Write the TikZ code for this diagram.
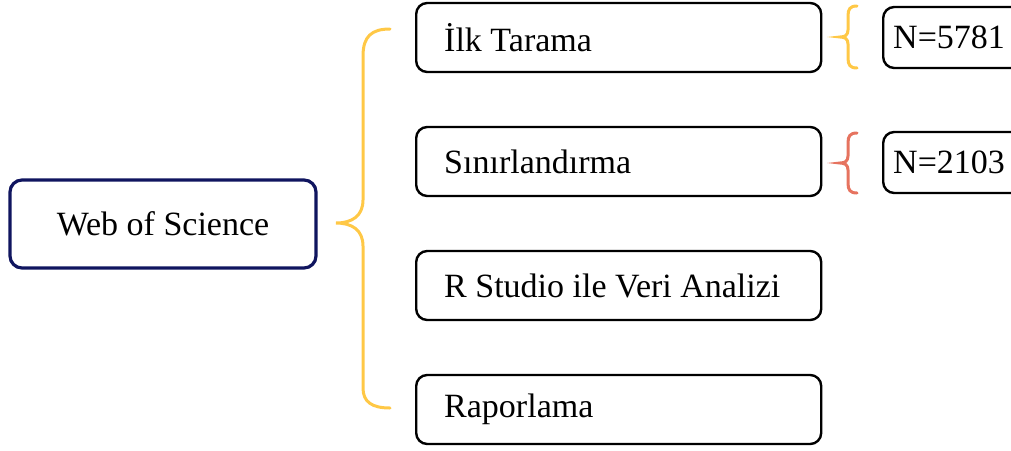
\documentclass[tikz,border=0pt]{standalone}
\usepackage{fontspec}
\setmainfont{Liberation Serif}
\definecolor{navy}{HTML}{10155F}
\definecolor{braceyellow}{HTML}{FFC846}
\definecolor{bracered}{HTML}{E6735F}
\tikzset{
  txt/.style={font=\fontsize{34}{40}\selectfont},
  rootbox/.style={txt, draw=navy, line width=3.2pt, rounded corners=12pt, minimum width=306pt, minimum height=88pt, align=center},
  stepbox/.style={txt, draw=black, line width=2.4pt, rounded corners=11pt, text width=349pt, inner xsep=28pt, minimum height=69pt, align=flush left, anchor=west},
  nbox/.style={txt, draw=black, line width=2.4pt, rounded corners=11pt, text width=130pt, inner xsep=10pt, minimum height=61pt, align=flush left, anchor=west},
  bracelineY/.style={draw=braceyellow, line width=3pt, line cap=round},
  bracelineR/.style={draw=bracered, line width=3pt, line cap=round},
}
\begin{document}
\begin{tikzpicture}[x=1pt,y=-1pt]
\useasboundingbox (0,0) rectangle (1011,450);
\clip (0,0) rectangle (1011,450);
\node[rootbox] (web) at (163,224) {Web of Science};
\node[stepbox] (s1) at (415,37.5) {İlk Tarama};
\node[stepbox] (s2) at (415,161.5) {Sınırlandırma};
\node[stepbox] (s3) at (415,285.5) {R Studio ile Veri Analizi};
\node[stepbox] (s4) at (415,409.5) {Raporlama};
\node[nbox] (n1) at (882,37.5) {N=5781};
\node[nbox] (n2) at (882,162.5) {N=2103};
% big brace
\draw[bracelineY] (390,29) .. controls (372,29) and (363,36) .. (363,56)
  -- (363,200) .. controls (363,216) and (352,223) .. (336,223)
  .. controls (352,223) and (363,230) .. (363,246)
  -- (363,388) .. controls (363,402) and (372,408) .. (390,408);
% small braces
\draw[bracelineY] (857,6) .. controls (850,6) and (848,9) .. (848,16)
  -- (848,30) .. controls (848,35) and (845,37) .. (840,37)
  .. controls (845,37) and (848,39) .. (848,44)
  -- (848,58) .. controls (848,65) and (850,68) .. (857,68);
\draw[bracelineR] (857,133) .. controls (850,133) and (848,136) .. (848,143)
  -- (848,156) .. controls (848,161) and (845,163) .. (840,163)
  .. controls (845,163) and (848,165) .. (848,170)
  -- (848,183) .. controls (848,190) and (850,193) .. (857,193);
\end{tikzpicture}
\end{document}
